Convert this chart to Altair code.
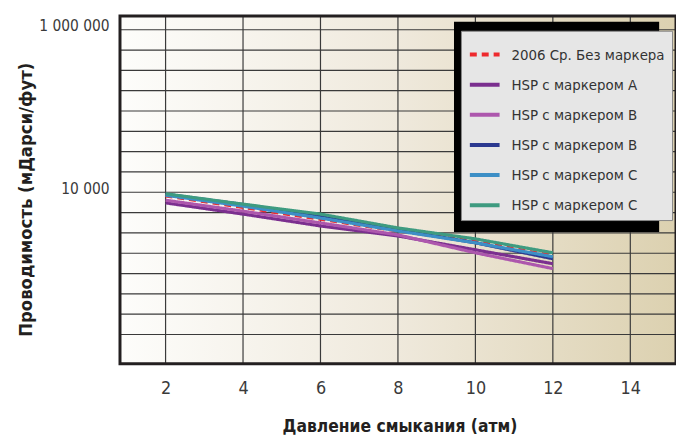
import altair as alt
import pandas as pd

# ---- data ----
pressure = [2, 4, 6, 8, 10, 12]
series_keys = ["s0", "s1", "s2", "s3", "s4", "s5"]
series_names = ["2006 Ср. Без маркера", "HSP с маркером A", "HSP с маркером B",
                "HSP с маркером B", "HSP с маркером C", "HSP с маркером C"]
series_colors = ["#ee2a2e", "#7b2f8f", "#ad57ad", "#2b3990", "#3d8fc6", "#3e9b80"]
series_dash = [[7, 5], [1, 0], [1, 0], [1, 0], [1, 0], [1, 0]]

s0_2006 = [9020, 6500, 4650, 3340, 2480, 1660]
s1_hsp_a = [7410, 5390, 3850, 2900, 1960, 1320]
s2_hsp_b1 = [7990, 5860, 4190, 2990, 1800, 1150]
s3_hsp_b2 = [9460, 7080, 5090, 3440, 2390, 1520]
s4_hsp_c1 = [9190, 6750, 4820, 3340, 2390, 1610]
s5_hsp_c2 = [9590, 7140, 5390, 3640, 2670, 1800]

x_ticks = [2, 4, 6, 8, 10, 12, 14]
y_grid = [10 ** (2.25 + k / 4) for k in range(16)]

# draw order (last on top)
draw_order = {"s1": 0, "s2": 1, "s4": 2, "s3": 3, "s5": 4, "s0": 5}

rows = []
for key, vals in zip(series_keys, [s0_2006, s1_hsp_a, s2_hsp_b1, s3_hsp_b2, s4_hsp_c1, s5_hsp_c2]):
    for p, v in zip(pressure, vals):
        rows.append({"series": key, "pressure": p, "value": v, "order": draw_order[key]})
df = pd.DataFrame(rows)

W, H = 561, 351
FONT = "Liberation Sans Narrow, DejaVu Sans Condensed, Arial Narrow, sans-serif"

x_scale = alt.Scale(domain=[0.823, 15.18], nice=False, zero=False)
y_scale = alt.Scale(type="log", domain=[77.6, 1.48e6], nice=False)

x_axis = alt.Axis(values=x_ticks, title="Давление смыкания (атм)", grid=False,
                  domain=False, tickSize=0, labelPadding=25, labelBaseline="middle",
                  labelFontSize=18, labelFont=FONT, labelColor="#3a3a3a",
                  titleFont=FONT, titleFontSize=17.5, titleFontWeight="bold",
                  titleColor="#231f20", titleX=282, titleY=63, titleBaseline="middle")
y_axis = alt.Axis(values=y_grid, grid=False, domain=False, tickSize=0,
                  labelExpr="abs(log(datum.value)/LN10 - 4) < 0.01 ? '10 000' : (abs(log(datum.value)/LN10 - 6) < 0.01 ? '1 000 000' : '')",
                  labelPadding=11, labelOffset=-4, labelBaseline="middle",
                  labelFontSize=15.5, labelFont=FONT, labelColor="#3a3a3a",
                  title="Проводимость (мДарси/фут)", titleFont=FONT, titleFontSize=18.5,
                  titleFontWeight="bold", titleColor="#231f20",
                  titleX=-95, titleY=185, titleBaseline="middle")

label_expr = " : ".join(f"datum.value == '{k}' ? '{n}'" for k, n in zip(series_keys, series_names)) + " : ''"

background = alt.Chart(alt.Data(values=[{}])).mark_rect(
    color=alt.Gradient(
        gradient="linear",
        stops=[alt.GradientStop(color="#fdfdfb", offset=0),
               alt.GradientStop(color="#efe9dc", offset=0.5),
               alt.GradientStop(color="#dcd1b0", offset=1)],
        x1=0, x2=1, y1=0, y2=0),
).encode(x=alt.value(0), x2=alt.value(W), y=alt.value(0), y2=alt.value(H))

hgrid = alt.Chart(pd.DataFrame({"g": y_grid})).mark_rule(
    color="#3a3a3a", strokeWidth=1.2
).encode(y=alt.Y("g:Q", scale=y_scale, axis=y_axis))

vgrid = alt.Chart(pd.DataFrame({"t": x_ticks})).mark_rule(
    color="#3a3a3a", strokeWidth=1.2
).encode(x=alt.X("t:Q", scale=x_scale, axis=x_axis))

shadow = alt.Chart(alt.Data(values=[{}])).mark_rect(color="#000000").encode(
    x=alt.value(337), x2=alt.value(544), y=alt.value(6), y2=alt.value(218))

lines = alt.Chart(df).mark_line(strokeWidth=3.2).encode(
    x=alt.X("pressure:Q", scale=x_scale, axis=x_axis),
    y=alt.Y("value:Q", scale=y_scale, axis=y_axis),
    color=alt.Color("series:N", scale=alt.Scale(domain=series_keys, range=series_colors),
                    legend=alt.Legend(title=None, labelExpr=label_expr)),
    strokeDash=alt.StrokeDash("series:N", scale=alt.Scale(domain=series_keys, range=series_dash),
                              legend=alt.Legend(title=None, labelExpr=label_expr)),
    order=alt.Order("order:Q"),
    detail="series:N",
)

border = alt.Chart(alt.Data(values=[{}])).mark_rect(
    filled=False, stroke="#231f20", strokeWidth=3
).encode(x=alt.value(0), x2=alt.value(W), y=alt.value(0), y2=alt.value(H))

chart = alt.layer(background, hgrid, vgrid, shadow, lines, border).properties(
    width=W, height=H,
    autosize=alt.AutoSizeParams(type="none"),
    padding={"left": 113, "top": 6, "right": 0, "bottom": 80},
).configure_view(stroke=None).configure_legend(
    orient="none", legendX=344, legendY=15,
    fillColor="#e6e6e6", strokeColor="#888888", padding=7,
    symbolType="stroke", symbolSize=900, symbolStrokeWidth=4,
    labelFont=FONT, labelFontSize=15, labelColor="#333333", labelOffset=10,
    rowPadding=5.4, labelLimit=300,
)

chart.save("out.html", embed_options={"renderer": "svg", "actions": False})
